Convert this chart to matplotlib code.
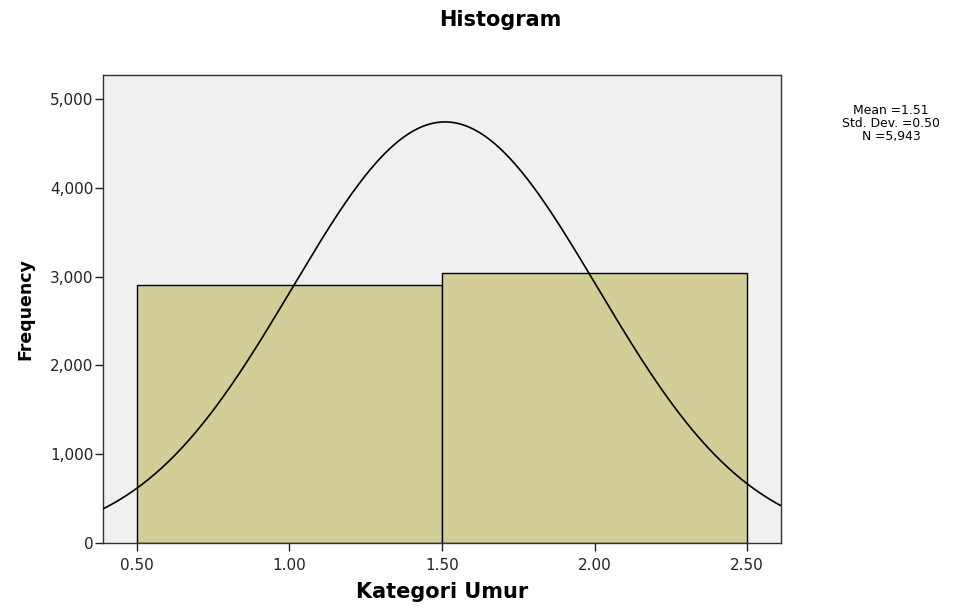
import numpy as np
import matplotlib
matplotlib.use('Agg')
import matplotlib.pyplot as plt
from matplotlib.ticker import FuncFormatter

plt.rcParams['font.family'] = ['DejaVu Sans']

# ---------------------------------------------------------------------------
# Data
# ---------------------------------------------------------------------------
bin_edges = [0.5, 1.5, 2.5]
counts = [2905, 3038]
mean = 1.51
sd = 0.50
n_total = 5943
x_ticks = [0.5, 1.0, 1.5, 2.0, 2.5]
y_ticks = [0, 1000, 2000, 3000, 4000, 5000]

# ---------------------------------------------------------------------------
fig = plt.figure(figsize=(9.74, 6.07), dpi=100)
ax = fig.add_axes([0.1057, 0.1054, 0.6961, 0.7710])
ax.set_facecolor('#f0f0f0')

widths = np.diff(bin_edges)
ax.bar(bin_edges[:-1], counts, width=widths, align='edge',
       color='#d3ce98', edgecolor='black', linewidth=1.0, zorder=2)

# normal curve scaled to counts (bin width 1)
xs = np.linspace(0.38, 2.62, 400)
ys = n_total * widths[0] / (sd * np.sqrt(2 * np.pi)) * np.exp(-0.5 * ((xs - mean) / sd) ** 2)
ax.plot(xs, ys, color='black', lw=1.2, zorder=3)

ax.set_xlim(0.389, 2.611)
ax.set_ylim(0, 5270)
ax.set_xticks(x_ticks)
ax.set_yticks(y_ticks)
ax.xaxis.set_major_formatter(FuncFormatter(lambda v, p: f'{v:.2f}'))
ax.yaxis.set_major_formatter(FuncFormatter(lambda v, p: f'{int(v):,}'))
ax.tick_params(direction='out', length=6, width=1, labelsize=11, colors='#222222', pad=1)
ax.tick_params(axis='x', pad=5)
for s in ax.spines.values():
    s.set_color('#333333')
    s.set_linewidth(1.0)

ax.set_xlabel('Kategori Umur', fontsize=15, fontweight='bold', va='center')
ax.xaxis.set_label_coords(0.5, -0.105)
ax.set_ylabel('Frequency', fontsize=12.5, fontweight='bold', va='center')
ax.yaxis.set_label_coords(-78 / 678, 0.5)
fig.text(0.5134, 0.967, 'Histogram', ha='center', va='center',
         fontsize=15, fontweight='bold')

fig.text(0.915, 0.796, f'Mean ={mean:.2f}\nStd. Dev. ={sd:.2f}\nN ={n_total:,}',
         ha='center', va='center', fontsize=8.9, linespacing=1.0)

fig.savefig('out.png', dpi=100)
